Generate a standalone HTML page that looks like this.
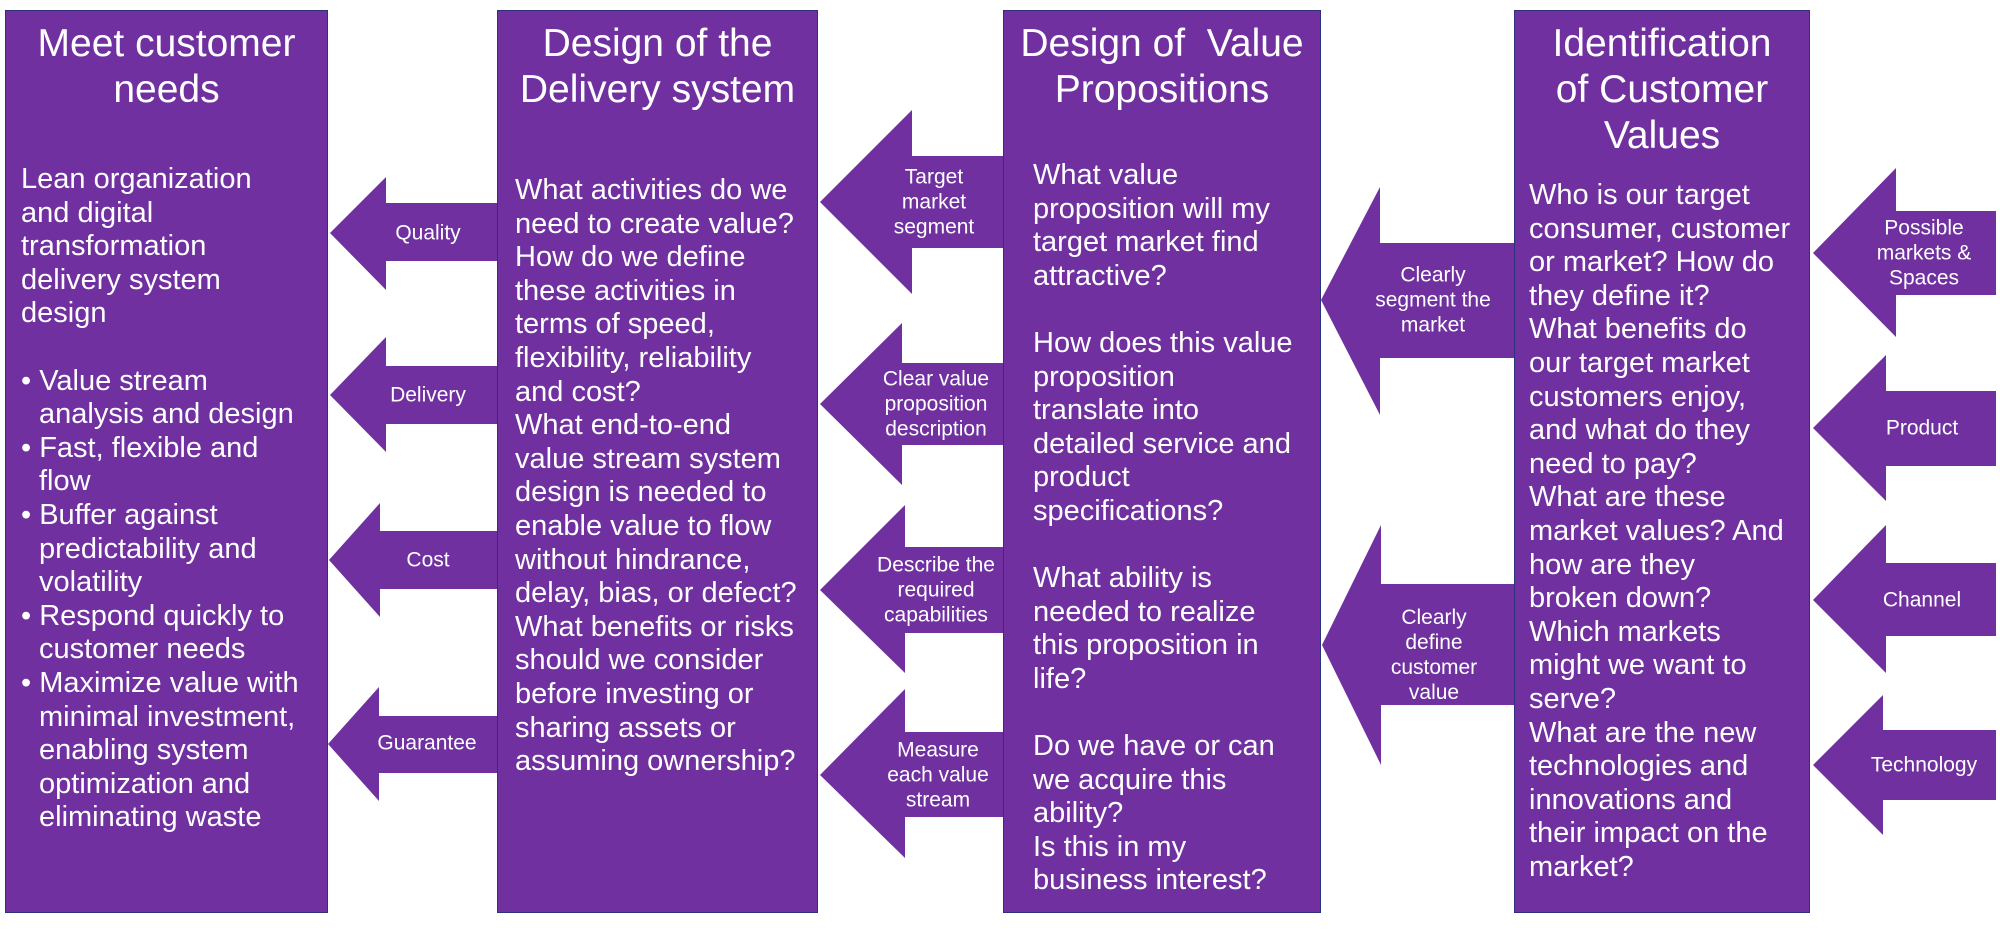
<!DOCTYPE html>
<html><head><meta charset="utf-8"><style>
body{margin:0;width:2000px;height:940px;background:#fff;position:relative;overflow:hidden;font-family:"Liberation Sans",sans-serif;color:#fff}
.box{position:absolute;top:10px;height:903px;background:#7030A0;box-sizing:border-box;border:1px solid #2f2f80}
.t{position:absolute;left:0;right:0;top:10px;text-align:center;font-size:39px;line-height:46px;white-space:nowrap}
.b{position:absolute;font-size:29px;line-height:33.6px;white-space:nowrap}
.lab{position:absolute;font-size:21px;line-height:25px;text-align:center;white-space:nowrap;transform:translate(-50%,-50%)}
svg{position:absolute;left:0;top:0}
.ind{padding-left:18px}
</style></head><body>
<svg width="2000" height="940">
<g fill="#7030A0">
<!-- box1-box2 arrows -->
<polygon points="330,233 386,177 386,203 497,203 497,261 386,261 386,290"/>
<polygon points="330,395 386,337 386,366 497,366 497,424 386,424 386,452"/>
<polygon points="329,560 380,503 380,531 497,531 497,589 380,589 380,617"/>
<polygon points="328,744 379,687 379,716 497,716 497,773 379,773 379,801"/>
<!-- box2-box3 arrows -->
<polygon points="820,202 912,110 912,156 1003,156 1003,248 912,248 912,294"/>
<polygon points="820,404 902,323 902,363 1003,363 1003,445 902,445 902,485"/>
<polygon points="820,590 905,505 905,547 1003,547 1003,633 905,633 905,673"/>
<polygon points="820,775 905,689 905,732 1003,732 1003,817 905,817 905,858"/>
<!-- box3-box4 arrows -->
<polygon points="1321,300 1380,187 1380,243 1514,243 1514,358 1380,358 1380,415"/>
<polygon points="1322,645 1381,525 1381,584 1514,584 1514,705 1381,705 1381,765"/>
<!-- far right arrows -->
<polygon points="1813,253 1896,168 1896,211 1996,211 1996,295 1896,295 1896,337"/>
<polygon points="1813,428 1886,355 1886,391 1996,391 1996,466 1886,466 1886,501"/>
<polygon points="1813,600 1886,525 1886,563 1996,563 1996,636 1886,636 1886,673"/>
<polygon points="1813,765 1883,695 1883,730 1996,730 1996,800 1883,800 1883,835"/>
</g>
</svg>

<div class="box" style="left:5px;width:323px">
<div class="t">Meet customer<br>needs</div>
<div class="b" style="left:15px;top:152px">Lean organization<br>and digital<br>transformation<br>delivery system<br>design<br>&nbsp;<br>• Value stream<br><span class="ind">analysis and design</span><br>• Fast, flexible and<br><span class="ind">flow</span><br>• Buffer against<br><span class="ind">predictability and</span><br><span class="ind">volatility</span><br>• Respond quickly to<br><span class="ind">customer needs</span><br>• Maximize value with<br><span class="ind">minimal investment,</span><br><span class="ind">enabling system</span><br><span class="ind">optimization and</span><br><span class="ind">eliminating waste</span></div>
</div>

<div class="box" style="left:497px;width:321px">
<div class="t">Design of the<br>Delivery system</div>
<div class="b" style="left:17px;top:163px">What activities do we<br>need to create value?<br>How do we define<br>these activities in<br>terms of speed,<br>flexibility, reliability<br>and cost?<br>What end-to-end<br>value stream system<br>design is needed to<br>enable value to flow<br>without hindrance,<br>delay, bias, or defect?<br>What benefits or risks<br>should we consider<br>before investing or<br>sharing assets or<br>assuming ownership?</div>
</div>

<div class="box" style="left:1003px;width:318px">
<div class="t">Design of &nbsp;Value<br>Propositions</div>
<div class="b" style="left:29px;top:148px">What value<br>proposition will my<br>target market find<br>attractive?<br>&nbsp;<br>How does this value<br>proposition<br>translate into<br>detailed service and<br>product<br>specifications?<br>&nbsp;<br>What ability is<br>needed to realize<br>this proposition in<br>life?<br>&nbsp;<br>Do we have or can<br>we acquire this<br>ability?<br>Is this in my<br>business interest?</div>
</div>

<div class="box" style="left:1514px;width:296px">
<div class="t">Identification<br>of Customer<br>Values</div>
<div class="b" style="left:14px;top:168px">Who is our target<br>consumer, customer<br>or market? How do<br>they define it?<br>What benefits do<br>our target market<br>customers enjoy,<br>and what do they<br>need to pay?<br>What are these<br>market values? And<br>how are they<br>broken down?<br>Which markets<br>might we want to<br>serve?<br>What are the new<br>technologies and<br>innovations and<br>their impact on the<br>market?</div>
</div>

<div class="lab" style="left:428px;top:233px">Quality</div>
<div class="lab" style="left:428px;top:395px">Delivery</div>
<div class="lab" style="left:428px;top:560px">Cost</div>
<div class="lab" style="left:427px;top:743px">Guarantee</div>

<div class="lab" style="left:934px;top:202px">Target<br>market<br>segment</div>
<div class="lab" style="left:936px;top:404px">Clear value<br>proposition<br>description</div>
<div class="lab" style="left:936px;top:590px">Describe the<br>required<br>capabilities</div>
<div class="lab" style="left:938px;top:775px">Measure<br>each value<br>stream</div>

<div class="lab" style="left:1433px;top:300px">Clearly<br>segment the<br>market</div>
<div class="lab" style="left:1434px;top:655px">Clearly<br>define<br>customer<br>value</div>

<div class="lab" style="left:1924px;top:253px">Possible<br>markets &amp;<br>Spaces</div>
<div class="lab" style="left:1922px;top:428px">Product</div>
<div class="lab" style="left:1922px;top:600px">Channel</div>
<div class="lab" style="left:1924px;top:765px">Technology</div>
</body></html>
